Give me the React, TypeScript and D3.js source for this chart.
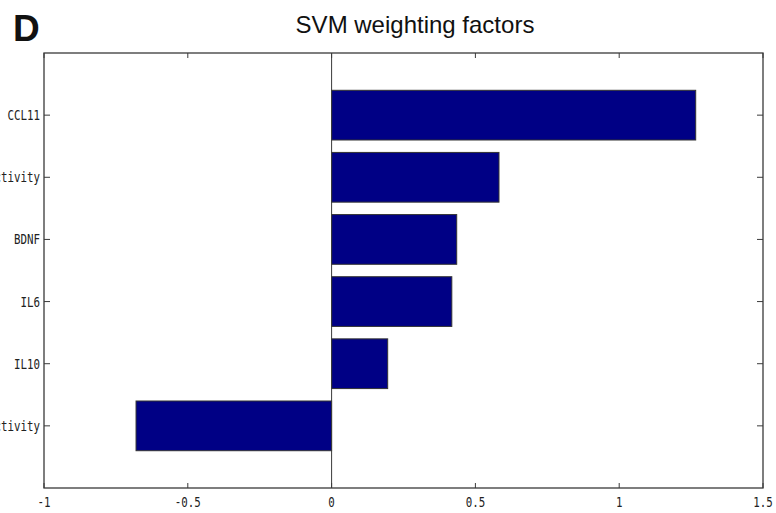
import React from "react";
import * as d3 from "d3";

const categories = ["CCL11", "PON1 activity", "BDNF", "IL6", "IL10", "CMPAase activity"];
const weights = [1.266, 0.582, 0.435, 0.418, 0.195, -0.68];
const xTicks = [-1, -0.5, 0, 0.5, 1, 1.5];
const xTickLabels = ["-1", "-0.5", "0", "0.5", "1", "1.5"];

export default function App() {
  const W = 776, H = 513;
  const x = d3.scaleLinear().domain([-1, 1.5]).range([44, 763]);
  const y = d3.scaleLinear().domain([0, 7]).range([53, 488]);
  const barH = y(0.8) - y(0);
  const axisColor = "#3a3a3a";
  const mono = "'DejaVu Sans Mono', 'Liberation Mono', monospace";
  const sx = 0.8;
  return (
    <svg width={W} height={H} style={{ position: "absolute", left: 0, top: 0, background: "#fff" }}>
      <text x={13} y={41} fontFamily="'Liberation Sans', Arial, sans-serif" fontWeight="bold" fontSize={37} fill="#111">D</text>
      <text x={415} y={33} textAnchor="middle" fontFamily="'Liberation Sans', Arial, sans-serif" fontSize={24} fill="#111">SVM weighting factors</text>
      {categories.map((c, i) => {
        const v = weights[i];
        const pos = i + 1;
        return (
          <rect key={c} x={Math.min(x(0), x(v))} y={y(pos - 0.4)} width={Math.abs(x(v) - x(0))} height={barH}
            fill="#000085" stroke="#333" strokeWidth={1} />
        );
      })}
      <line x1={x(0)} x2={x(0)} y1={y(0)} y2={y(7)} stroke={axisColor} strokeWidth={1} />
      <rect x={x(-1)} y={y(0)} width={x(1.5) - x(-1)} height={y(7) - y(0)} fill="none" stroke={axisColor} strokeWidth={1.3} />
      {xTicks.map((t, i) => (
        <g key={t}>
          <line x1={x(t)} x2={x(t)} y1={y(7)} y2={y(7) - 5} stroke={axisColor} />
          <line x1={x(t)} x2={x(t)} y1={y(0)} y2={y(0) + 5} stroke={axisColor} />
          <text transform={`translate(${x(t)},507) scale(${sx},1)`} textAnchor="middle" fontFamily={mono} fontSize={13.5} fill="#222">{xTickLabels[i]}</text>
        </g>
      ))}
      {categories.map((c, i) => (
        <g key={c}>
          <line x1={x(-1)} x2={x(-1) + 6} y1={y(i + 1)} y2={y(i + 1)} stroke={axisColor} />
          <line x1={x(1.5)} x2={x(1.5) - 6} y1={y(i + 1)} y2={y(i + 1)} stroke={axisColor} />
          <text transform={`translate(40,${y(i + 1) + 5}) scale(${sx},1)`} textAnchor="end" fontFamily={mono} fontSize={13.5} fill="#222">{c}</text>
        </g>
      ))}
    </svg>
  );
}
